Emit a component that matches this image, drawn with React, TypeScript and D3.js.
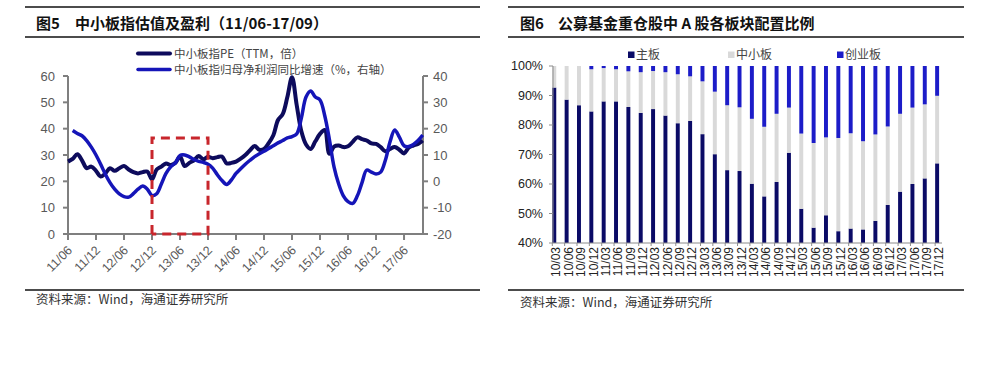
import { useEffect, useRef } from 'react';
import * as d3 from 'd3';

// 左图：中小板指 PE（月度，11/06 起）
const peValues = [
  27.5, 28.5, 30.3, 28, 25, 25.6, 24, 21.8, 23, 25, 24, 25, 25.8, 24.5, 23.5, 23, 23.5, 23.7, 20.8, 24.5,
  25.6, 26.8, 26.2, 27, 29.4, 25.8, 27, 28, 29.6, 28.4, 29.3, 28.8, 29.2, 29.4, 26.8, 27, 27.5, 28.6, 30, 31.8,
  33.4, 32, 32.3, 34.5, 37.5, 43.3, 45.5, 52, 59.5, 49, 39, 34, 32.3, 35.2, 38, 39.5, 30.5, 33.2, 33.6, 33,
  33.3, 35, 36.7, 36, 35.5, 34.4, 34.2, 33, 31.4, 32.3, 33, 32, 30.6, 32.8, 33.6, 34.2, 35.5,
];
// 归母净利润同比增速（%，右轴），从 11/07 起
const growthValues = [
  19.3, 18.2, 17.3, 15.5, 13, 10, 6.5, 2.7, -0.5, -3, -4.8, -5.8, -6, -4.7, -3, -1.8, -3, -5.4, -4.7, -1,
  3, 5.5, 7, 9.8, 10, 9.3, 8.3, 7.6, 7.2, 6.5, 5, 2.5, 0.3, -1.2, 0.5, 3, 4.8, 6.5, 8, 9.4,
  10.5, 11.4, 12.5, 13.5, 14.6, 15.5, 16.5, 17, 18, 24, 32, 34.3, 32, 30.9, 25, 16, 5.5, -1, -5.5, -7.7,
  -8.4, -5.5, -0.5, 4.3, 3.5, 2.8, 3.5, 8, 15, 19.5, 16.8, 13.5, 13.2, 14, 15.5, 17.6,
];
const monthTicks = ['11/06', '11/12', '12/06', '12/12', '13/06', '13/12', '14/06', '14/12', '15/06', '15/12', '16/06', '16/12', '17/06'];
const leftTicks = [0, 10, 20, 30, 40, 50, 60];
const rightTicks = [-20, -10, 0, 10, 20, 30, 40];

// 右图：公募基金重仓股配置比例（%）
const quarters = [
  '10/03', '10/06', '10/09', '10/12', '11/03', '11/06', '11/09', '11/12', '12/03', '12/06', '12/09', '12/12',
  '13/03', '13/06', '13/09', '13/12', '14/03', '14/06', '14/09', '14/12', '15/03', '15/06', '15/09', '15/12',
  '16/03', '16/06', '16/09', '16/12', '17/03', '17/06', '17/09', '17/12',
];
const mainBoard = [92.7, 88.6, 86.7, 84.6, 88.0, 88.0, 86.1, 84.1, 85.4, 83.2, 80.6, 81.4, 76.9, 70.1, 64.7, 64.4, 60.1, 55.8, 60.7, 70.6, 51.6, 45.2, 49.4, 44.0, 44.9, 44.6, 47.5, 52.9, 57.4, 60.0, 61.9, 67.0];
const smeBoard = [7.3, 11.4, 13.3, 14.3, 11.3, 10.9, 12.1, 13.8, 12.9, 14.7, 16.6, 15.1, 17.9, 21.2, 22.0, 21.6, 22.0, 23.6, 23.1, 15.3, 25.5, 28.7, 26.4, 31.6, 32.3, 29.9, 29.3, 26.6, 26.4, 25.9, 25.1, 22.9];
const gemBoard = [0, 0, 0, 1.1, 0.7, 1.1, 1.8, 2.1, 1.7, 2.1, 2.8, 3.5, 5.2, 8.7, 13.3, 14.0, 17.9, 20.6, 16.2, 14.1, 22.9, 26.1, 24.2, 24.4, 22.8, 25.5, 23.2, 20.5, 16.2, 14.1, 13.0, 10.1];
const pctTicks = [40, 50, 60, 70, 80, 90, 100];

const SANS = "'Liberation Sans', Arial, sans-serif";
const CJK = "'Noto Sans CJK SC', sans-serif";

const App = () => {
  const ref = useRef(null);

  useEffect(() => {
    const svg = d3.select(ref.current);
    svg.selectAll('*').remove();

    // ---------- 左图 ----------
    const x = d3.scaleLinear().domain([0, 76]).range([68, 422.7]);
    const yL = d3.scaleLinear().domain([0, 60]).range([234, 76]);
    const yR = d3.scaleLinear().domain([-20, 40]).range([234, 76]);

    const left = svg.append('g');
    left.append('line').attr('x1', 25).attr('x2', 480).attr('y1', 7).attr('y2', 7).attr('stroke', '#111').attr('stroke-width', 1.5);
    left.append('line').attr('x1', 25).attr('x2', 480).attr('y1', 37).attr('y2', 37).attr('stroke', '#111').attr('stroke-width', 1.5);
    left.append('text').attr('x', 36).attr('y', 29).attr('font-family', CJK).attr('font-weight', 700).attr('font-size', 15).attr('fill', '#111').text('图5');
    left.append('text').attr('x', 75).attr('y', 29).attr('font-family', CJK).attr('font-weight', 700).attr('font-size', 15).attr('fill', '#111').text('中小板指估值及盈利（11/06-17/09）');

    // 图例
    const legend = [
      { label: '中小板指PE（TTM，倍）', color: '#0d0b5c', y: 53.5, w: 4 },
      { label: '中小板指归母净利润同比增速（%，右轴）', color: '#1515b8', y: 69.5, w: 3.5 },
    ];
    legend.forEach(l => {
      left.append('line').attr('x1', 138).attr('x2', 170).attr('y1', l.y).attr('y2', l.y)
        .attr('stroke', l.color).attr('stroke-width', l.w).attr('stroke-linecap', 'round');
      left.append('text').attr('x', 174).attr('y', l.y + 4).attr('font-family', CJK).attr('font-size', 11.5)
        .attr('fill', '#444').text(l.label);
    });

    // 坐标轴
    const axisColor = '#7f7f7f';
    left.append('line').attr('x1', 68).attr('x2', 68).attr('y1', 76).attr('y2', 234).attr('stroke', axisColor).attr('stroke-width', 2);
    left.append('line').attr('x1', 423).attr('x2', 423).attr('y1', 76).attr('y2', 234).attr('stroke', axisColor).attr('stroke-width', 2);
    left.append('line').attr('x1', 67).attr('x2', 424).attr('y1', 234).attr('y2', 234).attr('stroke', axisColor).attr('stroke-width', 2);

    leftTicks.forEach(t => {
      left.append('line').attr('x1', 63).attr('x2', 68).attr('y1', yL(t)).attr('y2', yL(t)).attr('stroke', axisColor).attr('stroke-width', 2);
      left.append('text').attr('x', 55).attr('y', yL(t)).attr('dy', '0.35em').attr('text-anchor', 'end')
        .attr('font-family', SANS).attr('font-size', 13).attr('fill', '#595959').text(t);
    });
    rightTicks.forEach(t => {
      left.append('line').attr('x1', 423).attr('x2', 428).attr('y1', yR(t)).attr('y2', yR(t)).attr('stroke', axisColor).attr('stroke-width', 2);
      left.append('text').attr('x', 433).attr('y', yR(t)).attr('dy', '0.35em').attr('text-anchor', 'start')
        .attr('font-family', SANS).attr('font-size', 13).attr('fill', '#595959').text(t);
    });
    monthTicks.forEach((t, i) => {
      const tx = x(i * 6);
      left.append('line').attr('x1', tx).attr('x2', tx).attr('y1', 234).attr('y2', 240).attr('stroke', axisColor).attr('stroke-width', 2);
      left.append('text').attr('transform', `translate(${tx + 5},${251}) rotate(-45)`).attr('text-anchor', 'end')
        .attr('font-family', SANS).attr('font-size', 12.5).attr('fill', '#595959').text(t);
    });

    // 曲线
    const pePath = d3.line<number>().x((d, i) => x(i)).y(d => yL(d)).curve(d3.curveCatmullRom);
    const growthPath = d3.line<number>().x((d, i) => x(i + 1)).y(d => yR(d)).curve(d3.curveCatmullRom);
    left.append('path').attr('d', pePath(peValues)).attr('fill', 'none').attr('stroke', '#0d0b5c').attr('stroke-width', 4).attr('stroke-linejoin', 'round');
    left.append('path').attr('d', growthPath(growthValues)).attr('fill', 'none').attr('stroke', '#1515b8').attr('stroke-width', 3.5).attr('stroke-linejoin', 'round');

    // 红色虚线框 12/12 - 13/12
    const bx0 = x(18), bx1 = x(30), by0 = yL(36.5), by1 = yL(0);
    left.append('path').attr('d', `M${bx0},${by1}V${by0}H${bx1}V${by1}H${bx0}`)
      .attr('fill', 'none').attr('stroke', '#c8262c').attr('stroke-width', 3).attr('stroke-dasharray', '9,6');

    left.append('line').attr('x1', 25).attr('x2', 480).attr('y1', 290).attr('y2', 290).attr('stroke', '#111').attr('stroke-width', 1.5);
    left.append('text').attr('x', 36).attr('y', 304).attr('font-family', CJK).attr('font-size', 12.5).attr('fill', '#333').text('资料来源：Wind，海通证券研究所');

    // ---------- 右图 ----------
    const right = svg.append('g');
    right.append('line').attr('x1', 508).attr('x2', 964).attr('y1', 7).attr('y2', 7).attr('stroke', '#111').attr('stroke-width', 1.5);
    right.append('line').attr('x1', 508).attr('x2', 964).attr('y1', 37).attr('y2', 37).attr('stroke', '#111').attr('stroke-width', 1.5);
    right.append('text').attr('x', 520).attr('y', 29).attr('font-family', CJK).attr('font-weight', 700).attr('font-size', 15).attr('fill', '#111').text('图6');
    right.append('text').attr('x', 558).attr('y', 29).attr('font-family', CJK).attr('font-weight', 700).attr('font-size', 15).attr('fill', '#111').text('公募基金重仓股中 A 股各板块配置比例');

    const colors = ['#0b0b66', '#d9d9d9', '#1c1cc8'];
    const names = ['主板', '中小板', '创业板'];
    const legendX = [628, 728, 837];
    names.forEach((n, i) => {
      right.append('rect').attr('x', legendX[i]).attr('y', 51.5).attr('width', 6.5).attr('height', 6.5).attr('fill', colors[i]);
      right.append('text').attr('x', legendX[i] + 8).attr('y', 58.5).attr('font-family', CJK).attr('font-size', 12).attr('fill', '#444').text(n);
    });

    const xb = d3.scaleBand().domain(quarters).range([548.1, 943.3]).paddingInner(0.68).paddingOuter(0.34);
    const yb = d3.scaleLinear().domain([40, 100]).range([243, 66]);

    const rows = quarters.map((q, i) => ({ q, main: mainBoard[i], sme: smeBoard[i], gem: gemBoard[i] }));
    const stacked = d3.stack().keys(['main', 'sme', 'gem'])(rows);
    stacked.forEach((s, k) => {
      right.append('g').attr('fill', colors[k]).selectAll('rect').data(s).join('rect')
        .attr('x', d => xb(d.data.q))
        .attr('width', xb.bandwidth())
        .attr('y', d => yb(Math.min(100, d[1])))
        .attr('height', d => Math.max(0, yb(Math.max(40, d[0])) - yb(Math.min(100, d[1]))));
    });

    right.append('line').attr('x1', 553).attr('x2', 553).attr('y1', 66).attr('y2', 243).attr('stroke', '#8c8c8c').attr('stroke-width', 1);
    right.append('line').attr('x1', 553).attr('x2', 942).attr('y1', 243).attr('y2', 243).attr('stroke', '#8c8c8c').attr('stroke-width', 1);
    pctTicks.forEach(t => {
      right.append('line').attr('x1', 549).attr('x2', 553).attr('y1', yb(t)).attr('y2', yb(t)).attr('stroke', '#8c8c8c');
      right.append('text').attr('x', 543).attr('y', yb(t)).attr('dy', '0.35em').attr('text-anchor', 'end')
        .attr('font-family', SANS).attr('font-size', 12.5).attr('fill', '#222').text(`${t}%`);
    });
    quarters.forEach(q => {
      const bx = xb(q);
      right.append('line').attr('x1', bx).attr('x2', bx).attr('y1', 243).attr('y2', 246).attr('stroke', '#8c8c8c');
      right.append('text').attr('transform', `translate(${bx + xb.bandwidth() / 2 + 2},${247}) rotate(-90)`)
        .attr('text-anchor', 'end').attr('dy', '0.35em')
        .attr('font-family', SANS).attr('font-size', 12).attr('fill', '#222').text(q);
    });

    right.append('line').attr('x1', 508).attr('x2', 964).attr('y1', 290).attr('y2', 290).attr('stroke', '#111').attr('stroke-width', 1.5);
    right.append('text').attr('x', 520).attr('y', 307).attr('font-family', CJK).attr('font-size', 12.5).attr('fill', '#333').text('资料来源：Wind，海通证券研究所');
  }, []);

  return (
    <div style={{ position: 'absolute', left: 0, top: 0, background: '#fff' }}>
      <svg ref={ref} width={1002} height={365} style={{ display: 'block' }} />
    </div>
  );
};

export default App;
